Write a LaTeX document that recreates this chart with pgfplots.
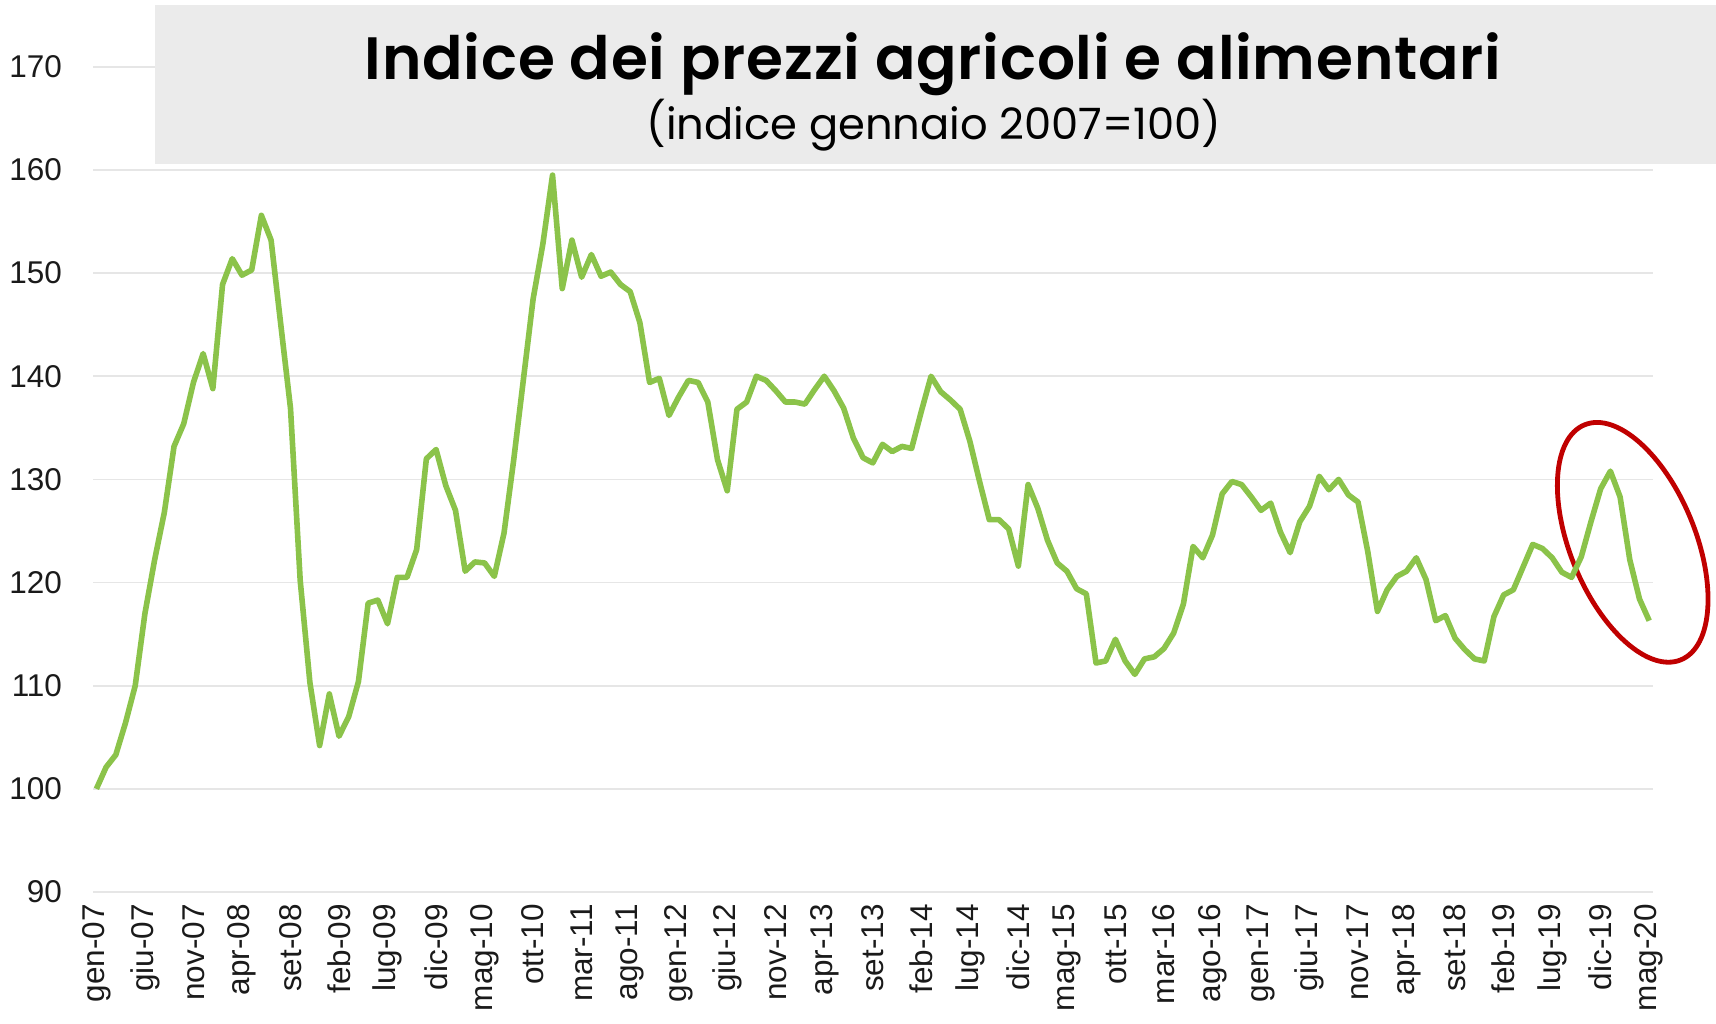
\documentclass[border=0pt]{standalone}
\usepackage{pgfplots}
\pgfplotsset{compat=1.18}
\usepackage{pgfplotstable}
\usepackage{fontspec}
\setmainfont{Liberation Sans}
\newfontfamily\titlefont{Poppins}[BoldFont={Poppins SemiBold}]
\newfontfamily\titlefontsp{Poppins}[BoldFont={Poppins SemiBold}, LetterSpace=1.3]
\definecolor{linegreen}{HTML}{8BC34A}
\definecolor{gridgray}{HTML}{E6E6E6}
\definecolor{boxgray}{HTML}{EBEBEB}
\definecolor{ellred}{HTML}{C00000}
\definecolor{ticktext}{HTML}{1A1A1A}

\pgfplotstableread{
x y
0 100
1 102.1
2 103.3
3 106.4
4 110
5 117
6 122.2
7 126.8
8 133.2
9 135.4
10 139.4
11 142.2
12 138.8
13 148.9
14 151.4
15 149.8
16 150.3
17 155.6
18 153.2
19 145
20 136.9
21 120.2
22 110.3
23 104.2
24 109.2
25 105.1
26 107
27 110.4
28 118
29 118.3
30 116
31 120.5
32 120.5
33 123.2
34 132
35 132.9
36 129.4
37 127
38 121.1
39 122
40 121.9
41 120.6
42 124.8
43 131.9
44 139.7
45 147.5
46 152.8
47 159.5
48 148.5
49 153.2
50 149.6
51 151.8
52 149.7
53 150.1
54 148.9
55 148.2
56 145.2
57 139.4
58 139.8
59 136.2
60 138
61 139.6
62 139.4
63 137.5
64 131.9
65 128.9
66 136.8
67 137.5
68 140
69 139.6
70 138.6
71 137.5
72 137.5
73 137.3
74 138.7
75 140
76 138.6
77 136.9
78 134
79 132.1
80 131.6
81 133.4
82 132.7
83 133.2
84 133
85 136.6
86 140
87 138.5
88 137.7
89 136.8
90 133.7
91 129.8
92 126.1
93 126.1
94 125.2
95 121.6
96 129.5
97 127.2
98 124.1
99 121.9
100 121.1
101 119.4
102 118.9
103 112.2
104 112.4
105 114.5
106 112.4
107 111.1
108 112.6
109 112.8
110 113.6
111 115.1
112 117.9
113 123.5
114 122.4
115 124.6
116 128.6
117 129.8
118 129.5
119 128.3
120 127
121 127.7
122 124.9
123 122.9
124 125.9
125 127.4
126 130.3
127 129
128 130
129 128.5
130 127.8
131 123
132 117.2
133 119.3
134 120.6
135 121.1
136 122.4
137 120.3
138 116.3
139 116.8
140 114.6
141 113.5
142 112.6
143 112.4
144 116.7
145 118.8
146 119.3
147 121.5
148 123.7
149 123.3
150 122.4
151 121
152 120.5
153 122.5
154 125.9
155 129.1
156 130.8
157 128.3
158 122.2
159 118.4
160 116.3
}\datatable

\begin{document}
\begin{tikzpicture}
\useasboundingbox (0,0) rectangle (858bp,512bp);
\begin{axis}[
  at={(46.5bp,66bp)}, anchor=south west,
  scale only axis, width=779.8bp, height=412.6bp,
  xmin=-0.35, xmax=160.35, ymin=90, ymax=170,
  ytick={90,100,...,170},
  xtick={0,5,...,160},
  xticklabels={gen-07,giu-07,nov-07,apr-08,set-08,feb-09,lug-09,dic-09,mag-10,ott-10,mar-11,ago-11,gen-12,giu-12,nov-12,apr-13,set-13,feb-14,lug-14,dic-14,mag-15,ott-15,mar-16,ago-16,gen-17,giu-17,nov-17,apr-18,set-18,feb-19,lug-19,dic-19,mag-20},
  axis line style={draw=none},
  major tick length=0pt,
  ymajorgrids, grid style={gridgray, line width=0.8bp},
  tick label style={font=\fontsize{15.8}{18}\selectfont, text=ticktext},
  /pgf/number format/assume math mode=true,
  xticklabel style={rotate=90, anchor=east, inner sep=0pt},
  xticklabel shift=6bp,
  yticklabel style={anchor=east, inner sep=0pt},
  yticklabel shift=15.3bp,
  clip=false,
]
\draw[ellred, line width=2.4bp, rotate around={-67.7:(axis cs:158.3,123.9)}] (axis cs:158.3,123.9) ellipse [x radius=63.5bp, y radius=31.3bp];
\addplot[linegreen, line width=2.8bp, line join=round, mark=none] table[x=x, y=y] {\datatable};
\end{axis}
\fill[boxgray] (77.5bp,430bp) rectangle (858bp,509.3bp);
\node[anchor=base, inner sep=0pt, font=\titlefontsp\bfseries\fontsize{30}{36}\selectfont] at (466.5bp,472bp) {Indice dei prezzi agricoli e alimentari};
\node[anchor=base, inner sep=0pt, font=\titlefont\fontsize{21.7}{26}\selectfont] at (467bp,442bp) {(indice gennaio 2007=100)};
\end{tikzpicture}
\end{document}
